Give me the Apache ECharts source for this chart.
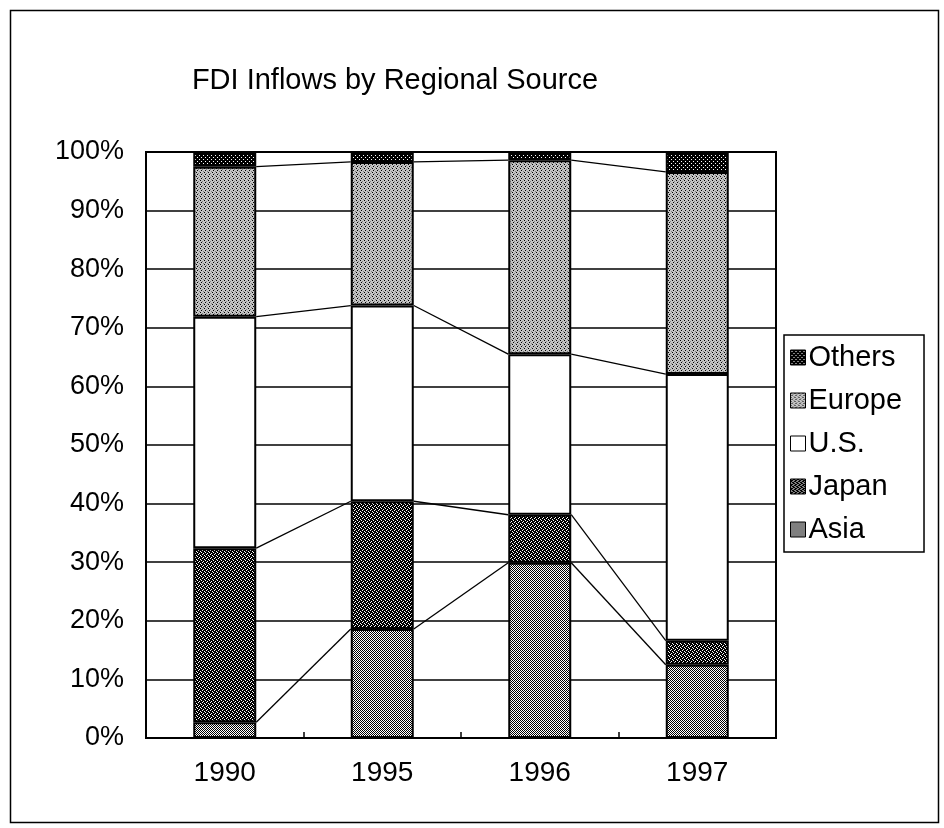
<!DOCTYPE html>
<html>
<head>
<meta charset="utf-8">
<script src="https://cdn.jsdelivr.net/npm/echarts@6/dist/echarts.min.js"></script>
<style>html,body{margin:0;padding:0;background:#fff}#c{width:944px;height:828px}</style>
</head>
<body>
<div id="c"></div>
<script>
const categories = ['1990', '1995', '1996', '1997'];
const asia   = [2.7, 18.6, 29.9, 12.5];
const japan  = [29.7, 21.8, 8.2, 4.1];
const us     = [39.5, 33.4, 27.4, 45.5];
const europe = [25.6, 24.5, 33.1, 34.5];
const others = [2.5, 1.7, 1.4, 3.4];
const yTicks = [0, 10, 20, 30, 40, 50, 60, 70, 80, 90, 100];

function pattern(cells, bg) {
  const h = cells.length, w = cells[0].length;
  const c = document.createElement('canvas');
  c.width = w; c.height = h;
  const ctx = c.getContext('2d');
  ctx.fillStyle = bg; ctx.fillRect(0, 0, w, h);
  for (let y = 0; y < h; y++) for (let x = 0; x < w; x++) {
    const ch = cells[y][x];
    if (ch === 'k') { ctx.fillStyle = '#000'; ctx.fillRect(x, y, 1, 1); }
    else if (ch === 'g') { ctx.fillStyle = '#808080'; ctx.fillRect(x, y, 1, 1); }
    else if (ch === 'w') { ctx.fillStyle = '#fff'; ctx.fillRect(x, y, 1, 1); }
  }
  return { image: c, repeat: 'repeat' };
}
const patOthers = pattern(['kkkk', 'kwkk', 'kkkk', 'kkkw'], '#000');
const patEurope = pattern(['k...', '..g.', '.k..', '...g'], '#c4c4c4');
const patJapan  = pattern(['kwkk', 'kkkw', 'kkwk', 'wkkk'], '#000');
const patAsia   = pattern(['kw', 'wk'], '#fff');

const seriesDefs = [
  { name: 'Asia', data: asia, color: patAsia },
  { name: 'Japan', data: japan, color: patJapan },
  { name: 'U.S.', data: us, color: '#ffffff' },
  { name: 'Europe', data: europe, color: patEurope },
  { name: 'Others', data: others, color: patOthers }
];

const cums = categories.map((_, i) => {
  let s = 0; const out = [];
  seriesDefs.forEach(d => { s += d.data[i]; out.push(s); });
  return out;
});
const linkData = [];
for (let i = 0; i < categories.length - 1; i++) {
  for (let k = 0; k < seriesDefs.length - 1; k++) {
    linkData.push([i, cums[i][k], cums[i + 1][k]]);
  }
}

const FONT = '"Liberation Sans", Arial, sans-serif';
const chart = echarts.init(document.getElementById('c'), null, { renderer: 'canvas' });
const option = {
  animation: false,
  backgroundColor: '#fff',
  title: {
    text: 'FDI Inflows by Regional Source',
    left: 390, top: 61, textAlign: 'center',
    textStyle: { fontFamily: FONT, fontSize: 29, fontWeight: 'normal', color: '#000' }
  },
  legend: {
    data: ['Others', 'Europe', 'U.S.', 'Japan', 'Asia'],
    orient: 'vertical',
    left: 784, top: 335,
    itemWidth: 15, itemHeight: 15, itemGap: 14,
    padding: [8, 22, 8, 6],
    borderColor: '#000', borderWidth: 1.5,
    icon: 'rect',
    textStyle: { fontFamily: FONT, fontSize: 29, color: '#000', padding: [0, 0, 0, -2] },
    itemStyle: { borderColor: '#000', borderWidth: 1 }
  },
  grid: {
    left: 146, right: 168, top: 152, bottom: 90,
    show: true, borderColor: '#000', borderWidth: 2, backgroundColor: '#fff'
  },
  xAxis: {
    type: 'category', data: categories,
    axisLine: { lineStyle: { color: '#000', width: 2 } },
    axisTick: { show: true, inside: true, length: 6, lineStyle: { color: '#000', width: 1.5 } },
    axisLabel: { fontFamily: FONT, fontSize: 28, color: '#000', margin: 21 }
  },
  yAxis: {
    type: 'value', min: 0, max: 100, interval: 10,
    axisLine: { show: true, lineStyle: { color: '#000', width: 2 } },
    axisTick: { show: false },
    splitLine: { lineStyle: { color: '#000', width: 1.5 } },
    axisLabel: { fontFamily: FONT, fontSize: 27, color: '#000', margin: 22,
      formatter: v => yTicks.includes(v) ? v + '%' : '' }
  },
  series: seriesDefs.map(d => ({
    name: d.name, type: 'bar', stack: 'total', barWidth: '40%',
    data: d.data,
    itemStyle: { color: d.color, borderColor: '#000', borderWidth: 2 },
    emphasis: { disabled: true }
  })).concat([{
    type: 'custom',
    name: 'links',
    data: linkData,
    encode: { x: 0, y: [1, 2] },
    z: 1,
    silent: true,
    renderItem: (params, api) => {
      const i = api.value(0);
      const a = api.coord([i, api.value(1)]);
      const b = api.coord([i + 1, api.value(2)]);
      const half = api.size([1, 0])[0] * 0.4 / 2;
      return {
        type: 'line',
        shape: { x1: a[0] + half, y1: a[1], x2: b[0] - half, y2: b[1] },
        style: { stroke: '#000', lineWidth: 1.3 }
      };
    }
  }]),
  graphic: [{
    type: 'rect', left: 8, top: 8, silent: true,
    shape: { width: 928, height: 812 },
    style: { fill: 'none', stroke: '#000', lineWidth: 1.5 }
  }]
};
chart.setOption(option);
</script>
</body>
</html>
